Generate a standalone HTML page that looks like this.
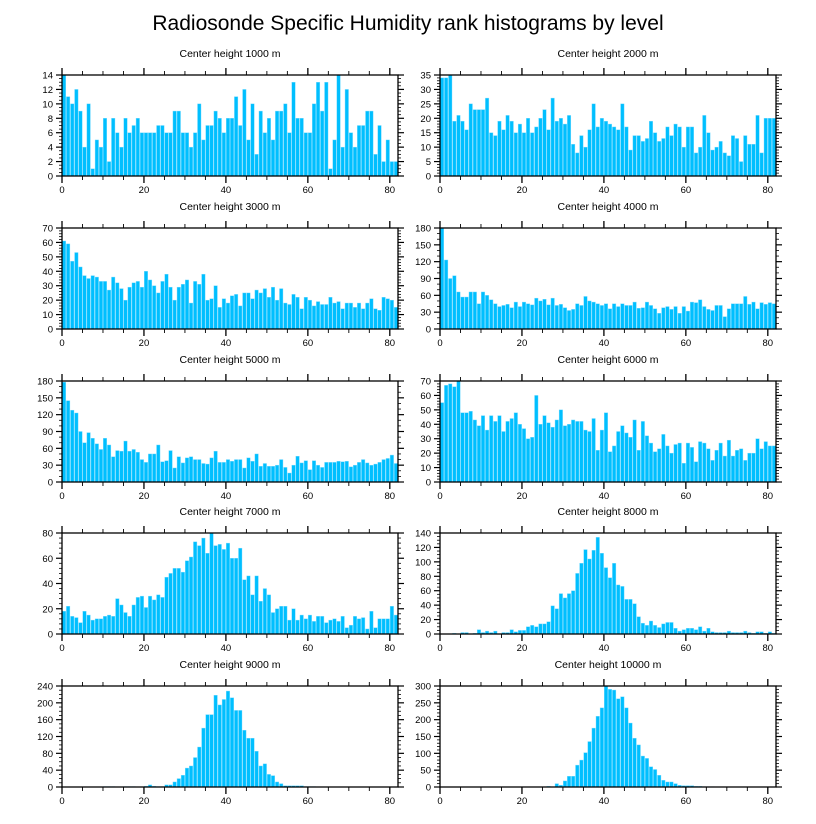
<!DOCTYPE html>
<html><head><meta charset="utf-8">
<style>
html,body{margin:0;padding:0;background:#fff;}
svg{display:block;font-family:"Liberation Sans",sans-serif;}
</style></head>
<body>
<svg id="chart" width="816" height="824" viewBox="0 0 816 824" xmlns="http://www.w3.org/2000/svg">
<rect width="816" height="824" fill="#fff"/>
<text x="408" y="30" font-size="21" text-anchor="middle" fill="#000">Radiosonde Specific Humidity rank histograms by level</text>
</svg>
<script>
const titles = ["Center height 1000 m","Center height 2000 m","Center height 3000 m","Center height 4000 m","Center height 5000 m","Center height 6000 m","Center height 7000 m","Center height 8000 m","Center height 9000 m","Center height 10000 m"];
const yMax = [14,35,70,180,180,70,80,140,240,300];
const yStep = [2,5,10,30,30,10,20,20,40,50];
const yMinor = [0.5,1,2,10,10,2,4,5,10,10];
const xTicks = [0,20,40,60,80];
const h1000 = [14,11,10,12,9,4,10,1,5,4,8,2,8,6,4,8,6,7,8,6,6,6,6,7,7,6,6,9,9,6,6,4,6,10,5,7,7,9,8,6,8,8,11,7,12,5,10,3,9,6,8,5,9,9,10,6,13,8,8,6,6,10,13,9,13,1,5,14,4,12,6,4,7,7,9,9,3,7,2,5,2,2];
const h2000 = [34,34,35,19,21,19,16,25,23,23,23,27,15,14,19,16,21,19,15,18,15,20,15,17,20,23,16,27,19,20,18,21,11,8,14,10,16,25,17,20,19,18,17,16,25,17,9,14,14,12,13,19,15,12,13,17,14,18,17,10,17,17,8,10,21,15,9,10,12,8,7,14,13,5,14,11,11,21,8,20,20,20];
const h3000 = [61,59,47,53,43,37,35,37,36,33,33,27,36,32,28,20,29,32,33,29,40,34,30,25,33,38,29,20,29,31,34,18,33,31,38,20,21,30,15,21,18,23,24,16,25,25,21,27,25,28,22,29,20,28,18,17,24,22,14,22,20,16,19,17,17,22,18,19,14,18,18,15,18,14,18,21,14,13,22,21,20,15];
const h4000 = [180,123,90,95,66,57,57,66,66,45,66,60,52,45,40,42,44,38,48,40,48,45,43,55,50,53,43,55,42,44,38,33,35,45,42,58,50,48,45,42,45,36,45,40,45,42,42,48,37,38,48,42,36,28,38,40,35,40,28,40,32,48,47,52,40,35,33,42,42,22,36,45,45,45,58,44,48,36,47,44,47,45];
const h5000 = [178,145,128,123,90,70,88,78,68,58,78,66,45,56,55,73,55,58,53,40,35,50,50,66,36,38,56,25,45,34,43,45,40,40,33,32,43,55,35,35,40,37,40,40,25,43,37,50,28,33,28,28,30,40,26,16,30,46,34,38,22,38,30,26,35,35,35,37,36,37,27,30,35,40,34,30,32,35,40,42,48,33];
const h6000 = [55,67,68,66,70,48,48,49,43,39,46,36,46,42,46,35,42,44,48,40,37,30,31,60,40,46,41,38,43,50,39,40,43,42,42,36,35,44,22,36,48,21,25,35,39,34,31,43,22,42,32,27,21,23,33,25,20,26,27,13,27,24,14,28,27,23,15,22,27,18,29,18,22,23,15,20,20,30,23,28,25,25];
const h7000 = [18,22,14,13,9,18,15,11,12,12,14,15,14,28,23,17,14,23,29,30,21,30,27,31,29,45,48,52,52,49,58,61,73,70,76,64,80,70,71,67,72,60,60,68,43,46,31,46,26,36,31,17,20,22,22,11,20,11,15,12,15,10,14,14,9,11,12,10,14,5,7,14,12,13,4,18,5,12,12,12,22,15];
const h8000 = [0,0,0,1,0,2,2,0,1,6,2,4,2,4,0,2,2,6,3,5,5,10,12,10,14,14,17,39,35,56,50,56,60,84,98,117,104,116,134,112,92,78,98,68,66,48,48,42,24,15,12,18,12,9,14,16,16,8,4,6,8,8,6,10,4,8,3,2,2,2,4,2,2,2,4,2,1,3,3,1,3,1];
const h9000 = [0,0,0,0,0,0,0,0,0,0,1,1,1,0,0,1,1,1,0,0,2,5,2,1,1,5,5,12,20,28,45,50,70,95,140,172,172,218,195,208,228,212,182,182,135,116,116,85,50,55,30,27,12,8,3,3,3,3,3,1,1,1,0,0,0,0,0,0,0,0,0,0,0,0,0,0,0,0,0,0,0,0];
const h10000 = [0,0,0,0,0,0,0,0,0,0,0,0,0,0,0,0,0,0,0,0,0,0,0,0,0,0,2,0,10,5,18,32,32,65,80,102,135,175,210,235,300,290,288,262,268,235,190,145,125,92,85,60,52,35,20,15,15,10,5,4,4,4,2,2,1,1,1,0,0,0,0,0,0,0,0,0,0,0,0,0,0,0];
const series = [h1000,h2000,h3000,h4000,h5000,h6000,h7000,h8000,h9000,h10000];

const NS = "http://www.w3.org/2000/svg";
const svg = document.getElementById("chart");
function mk(tag, attrs, parent){ const e=document.createElementNS(NS,tag); for(const k in attrs) e.setAttribute(k,attrs[k]); parent.appendChild(e); return e; }

const colX = [62, 440];
const rowY = [75, 228, 381, 533, 686];
const PW = 336, PH = 101, XMAX = 82;

series.forEach((vals, p) => {
  const col = p % 2, row = Math.floor(p/2);
  const x0 = colX[col], y0 = rowY[row];
  const g = mk("g", {}, svg);
  
  
  const xs = v => x0 + v / XMAX * PW;
  const ys = v => y0 + PH - v / yMax[p] * PH;
  const t = mk("text", {x: x0 + PW/2, y: y0 - 18, "font-size": 10.5, "text-anchor": "middle"}, g);
  
  
  t.textContent = titles[p];
  vals.forEach((v, i) => {
    if (v <= 0) return;
    const r = mk("rect", {x: xs(i)+0.3, y: ys(v), width: PW/XMAX - 0.6, height: ys(0)-ys(v), fill: "#00bfff", stroke: "#7fdcff", "stroke-width": 0.4}, g);
    
    
  });
  const fr = mk("rect", {x: x0, y: y0, width: PW, height: PH, fill: "none", stroke: "#000", "stroke-width": 1.3}, g);
  
  
  // x ticks
  for (let v = 0; v <= 80; v += 5) {
    const major = v % 20 === 0, L = major ? 7 : 4;
    mk("line", {x1: xs(v), x2: xs(v), y1: y0, y2: y0 - L, stroke: "#000", "stroke-width": major?1.3:0.9}, g);
    mk("line", {x1: xs(v), x2: xs(v), y1: y0+PH, y2: y0+PH+L, stroke: "#000", "stroke-width": major?1.3:0.9}, g);
  }
  xTicks.forEach(v => {
    const tl = mk("text", {x: xs(v), y: y0 + PH + 17, "font-size": 9.5, "text-anchor": "middle"}, g);
    
    
    tl.textContent = v;
  });
  // y ticks
  for (let v = 0; v <= yMax[p] + 1e-9; v += yMinor[p]) {
    const major = Math.abs(v / yStep[p] - Math.round(v / yStep[p])) < 1e-6, L = major ? 6 : 3;
    mk("line", {x1: x0, x2: x0 - L, y1: ys(v), y2: ys(v), stroke: "#000", "stroke-width": major?1.2:0.8}, g);
    mk("line", {x1: x0+PW, x2: x0+PW + L, y1: ys(v), y2: ys(v), stroke: "#000", "stroke-width": major?1.2:0.8}, g);
  }
  for (let v = 0; v <= yMax[p] + 1e-9; v += yStep[p]) {
    const tl = mk("text", {x: x0 - 9, y: ys(v) + 3.5, "font-size": 9.5, "text-anchor": "end"}, g);
    
    
    tl.textContent = v;
  }
});
</script>
</body></html>
